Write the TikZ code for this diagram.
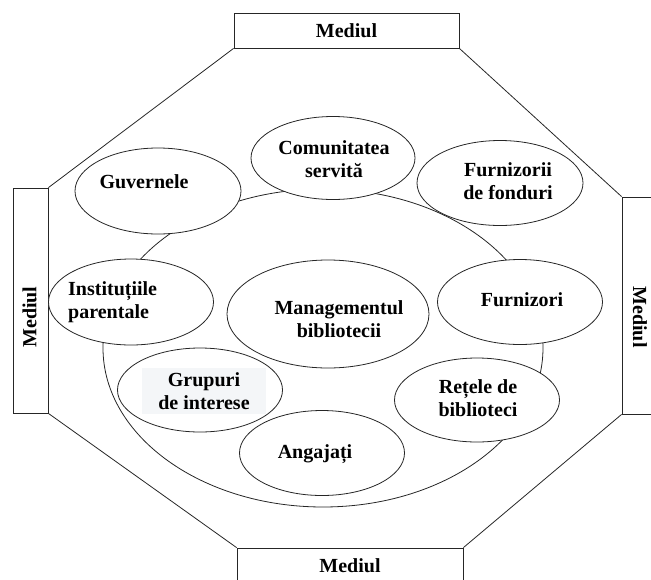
\documentclass[tikz,border=0pt]{standalone}
\usepackage{fontspec}
\setmainfont{Liberation Serif}
\usetikzlibrary{shapes.geometric}

\tikzset{
	env/.style={draw, line width=0.8pt, fill=white, inner sep=0pt},
	party/.style={draw, ellipse, line width=0.8pt, fill=white, inner sep=0pt,
		minimum width=166pt, minimum height=86pt},
	txt/.style={align=center, inner sep=0pt, font=\bfseries\fontsize{20}{23}\selectfont}
}

\begin{document}
\begin{tikzpicture}[x=1pt, y=-1pt, draw=black!85]
		\useasboundingbox (0,0) rectangle (651,579);

		% the four "Mediul" boxes
		\node (top) [env, minimum width=225pt, minimum height=35pt] at (346.5,30.5) {};
		\node (bot) [env, minimum width=226pt, minimum height=35pt] at (350,565.5) {};
		\node (left) [env, minimum width=35pt, minimum height=225pt] at (30.5,300.5) {};
		\node (right) [env, minimum width=35pt, minimum height=217pt] at (639.5,305.5) {};
		\node (toptxt) [txt] at (346.5,31) {Mediul};
		\node (bottxt) [txt] at (350,566) {Mediul};
		\node (lefttxt) [txt, rotate=90] at (29.5,317) {Mediul};
		\node (righttxt) [txt, rotate=-90] at (640,317) {Mediul};

		\draw[line width=0.8pt] (top.south west) -- (left.north east);
		\draw[line width=0.8pt] (top.south east) -- (right.north west);
		\draw[line width=0.8pt] (left.south east) -- (bot.north west);
		\draw[line width=0.8pt] (right.south west) -- (bot.north east);

		% the organisation and its partners
		\node (org) [draw, ellipse, line width=0.8pt, inner sep=0pt,
			minimum width=440pt, minimum height=318pt] at (323,348) {};

		\node (guv) [party] at (158,191) {};
		\node (com) [party, minimum width=164pt, minimum height=83pt] at (333,158) {};
		\node (fond) [party, minimum height=85pt] at (500,183) {};
		\node (inst) [party, minimum width=165pt] at (131,302) {};
		\node (mgmt) [party, minimum width=202pt, minimum height=108pt] at (328,314) {};
		\node (furn) [party, minimum width=165pt, minimum height=85pt] at (520,302) {};
		\node (grup) [party, minimum width=165pt, minimum height=84pt] at (200,390) {};
		\node (retea) [party, minimum width=165pt, minimum height=84pt] at (477,400) {};
		\node (ang) [party, minimum width=165pt, minimum height=85pt] at (322,453) {};

		\node (guvtxt) [txt] at (144,182) {Guvernele};
		\node (comtxt) [txt] at (334,159) {Comunitatea\\servită};
		\node (fondtxt) [txt] at (508,181) {Furnizorii\\de fonduri};
		\node (insttxt) [txt, align=left, anchor=west] at (68,302) {Instituțiile\\parentale};
		\node (mgmttxt) [txt] at (339,319) {Managementul\\bibliotecii};
		\node (furntxt) [txt] at (522,300) {Furnizori};
		\node (gruptxt) [txt, fill={rgb,255:red,244;green,246;blue,248},
			minimum width=124pt, minimum height=46pt] at (204,391) {Grupuri\\de interese};
		\node (reteatxt) [txt] at (478,398) {Rețele de\\biblioteci};
		\node (angtxt) [txt] at (315,454) {Angajați};
	\end{tikzpicture}
\end{document}
